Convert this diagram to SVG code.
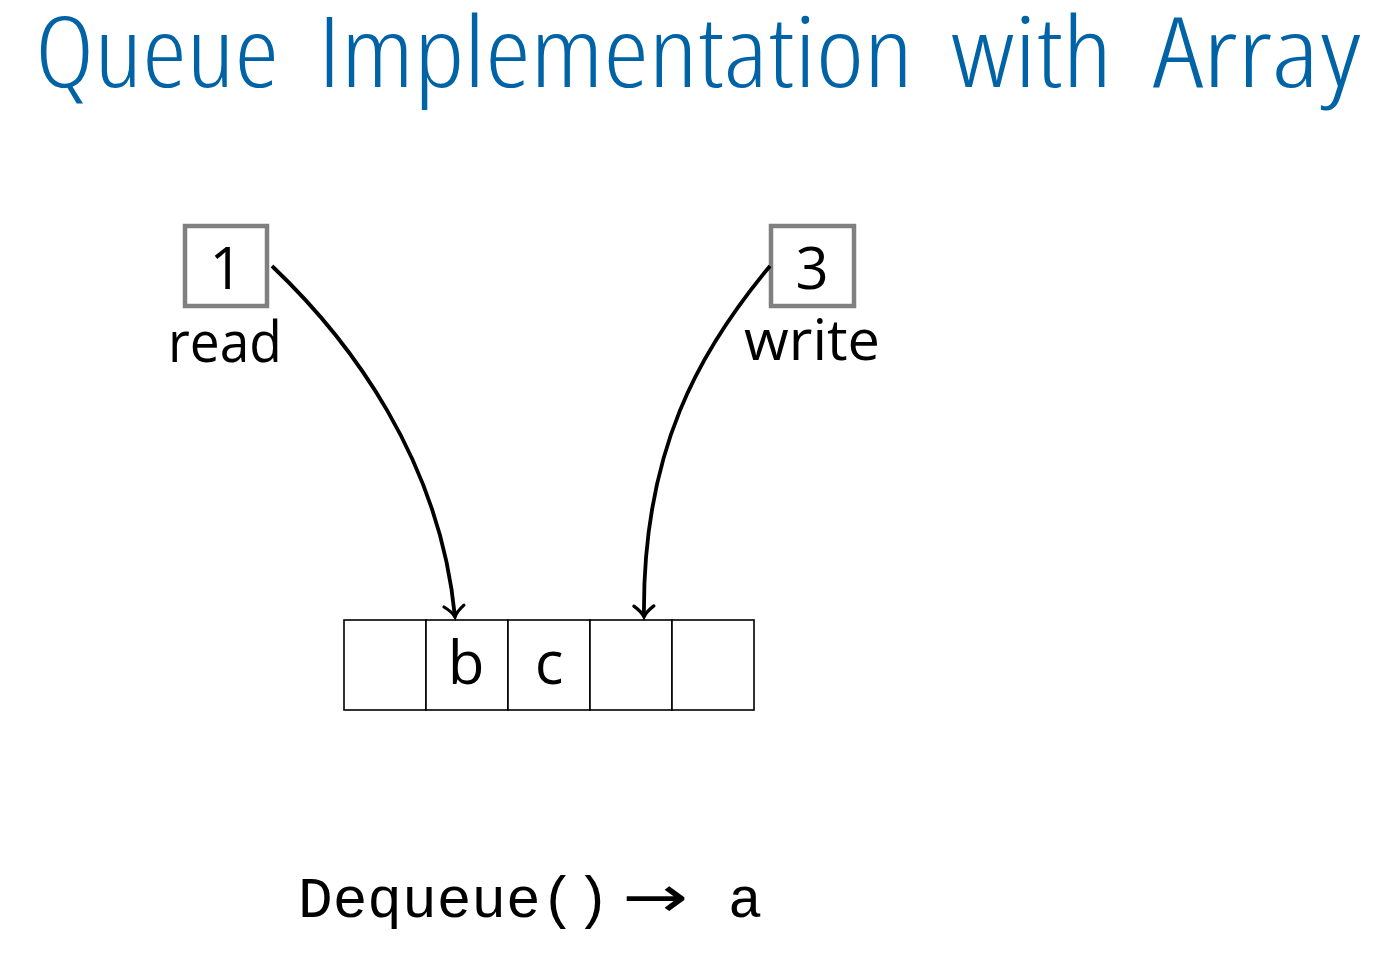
<svg xmlns="http://www.w3.org/2000/svg" width="1392" height="964" viewBox="0 0 1392 964">
  <style>
    .title { font-family: "Open Sans", "Liberation Sans", sans-serif; font-weight: 300; font-stretch: 75%; font-size: 98px; fill: #0063a6; }
    .lbl { font-family: "Open Sans", "Liberation Sans", sans-serif; fill: #000; }
    .ptr { fill: #fff; stroke: #808080; stroke-width: 4.5; }
    .cell { fill: #fff; stroke: #000; stroke-width: 1.6; }
    .edge { fill: none; stroke: #000; stroke-width: 3.8; marker-end: url(#tip); }
    .mono { font-family: "Liberation Mono", "DejaVu Sans Mono", monospace; font-size: 57px; fill: #000; }
  </style>
  <defs>
    <marker id="tip" markerWidth="30" markerHeight="30" refX="14" refY="15" orient="auto" markerUnits="userSpaceOnUse">
      <path d="M3,5 Q9,13 14,15 Q9,17 3,25" fill="none" stroke="#000" stroke-width="3.2" stroke-linecap="round"/>
    </marker>
  </defs>

  <rect width="1392" height="964" fill="#fff"/>

  <!-- heading, one text run per word -->
  <g id="heading">
    <text class="title" x="35" y="87" textLength="244" lengthAdjust="spacingAndGlyphs">Queue</text>
    <text class="title" x="318" y="87" textLength="595" lengthAdjust="spacingAndGlyphs">Implementation</text>
    <text class="title" x="951" y="87" textLength="161" lengthAdjust="spacingAndGlyphs">with</text>
    <text class="title" x="1153" y="87" textLength="208" lengthAdjust="spacingAndGlyphs">Array</text>
  </g>

  <g id="read">
    <rect class="ptr" x="185" y="226" width="82" height="80"/>
    <text class="lbl" x="226" y="289" font-size="58" text-anchor="middle">1</text>
    <text class="lbl" x="225" y="362" font-size="56" text-anchor="middle" textLength="114" lengthAdjust="spacingAndGlyphs">read</text>
  </g>

  <g id="write">
    <rect class="ptr" x="771" y="226" width="83" height="80"/>
    <text class="lbl" x="812" y="289" font-size="58" text-anchor="middle">3</text>
    <text class="lbl" x="812" y="360" font-size="56" text-anchor="middle" textLength="136" lengthAdjust="spacingAndGlyphs">write</text>
  </g>

  <g id="array">
    <rect class="cell" x="344" y="620" width="82" height="90"/>
    <rect class="cell" x="426" y="620" width="82" height="90"/>
    <rect class="cell" x="508" y="620" width="82" height="90"/>
    <rect class="cell" x="590" y="620" width="82" height="90"/>
    <rect class="cell" x="672" y="620" width="82" height="90"/>
    <text class="lbl" x="466" y="684" font-size="60" text-anchor="middle">b</text>
    <text class="lbl" x="549" y="684" font-size="60" text-anchor="middle">c</text>
  </g>

  <g id="connectors">
    <path class="edge" d="M272,266 C350,340 440,460 455,617"/>
    <path class="edge" d="M770,266 C700,350 642,450 644,617"/>
  </g>

  <g id="result">
    <text class="mono" x="298" y="917" textLength="312" lengthAdjust="spacingAndGlyphs">Dequeue()</text>
    <text x="622" y="917" font-family="DejaVu Sans, sans-serif" font-size="58" textLength="66" lengthAdjust="spacingAndGlyphs">→</text>
    <text class="mono" x="728" y="917">a</text>
  </g>
</svg>
